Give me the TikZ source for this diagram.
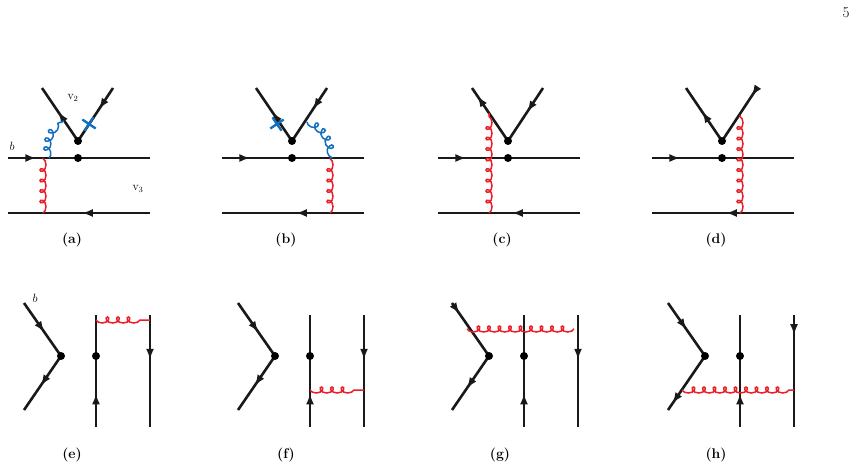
\documentclass[tikz,border=0pt]{standalone}
\usepackage{amsmath}
\usetikzlibrary{arrows.meta,decorations.pathmorphing,decorations.markings,shapes.misc}
\definecolor{gred}{RGB}{235,30,40}
\definecolor{gblue}{RGB}{20,110,190}
\tikzset{
  fermion/.style={line width=2.6pt,black!90},
  arr/.style={postaction={decorate,decoration={markings,
      mark=at position #1 with {\arrow{Latex[length=11pt,width=8pt]}}}}},
  gluon/.style={draw=#1,line width=1.5pt,decorate,
      decoration={coil,mirror,amplitude=3pt,segment length=10.5pt,aspect=1.2}},
  gluon/.default=gred,
  vtx/.style={circle,fill=black,inner sep=0pt,minimum size=8pt},
  xmark/.style={cross out,draw=gblue,line width=2.4pt,minimum size=9pt,inner sep=0pt},
  lbl/.style={font=\fontsize{14}{15}\selectfont\bfseries}
}
\begin{document}
\begin{tikzpicture}[x=1pt,y=-1pt]
  \useasboundingbox (0,0) rectangle (858,469);
  \node at (846,13) {\fontsize{15}{16}\selectfont 5};
  % top row: common skeleton
  \foreach \dx/\name/\pa/\pb in {0/a/.55/.4,214/b/.55/.4,430/c/.85/.45,644/d/.55/.15} {
    \begin{scope}[xshift=\dx]
      \coordinate (l1) at (8,158);  \coordinate (r1) at (150,158);
      \coordinate (l2) at (8,213);  \coordinate (r2) at (150,213);
      \coordinate (v) at (78,141);
      \coordinate (ea) at (42,88);  \coordinate (eb) at (113,88);
      \draw[fermion,arr=.2] (l1) -- (r1);
      \draw[fermion,arr=.48] (r2) -- (l2);
      \draw[fermion,arr=\pa] (v) -- (ea);
      \draw[fermion,arr=\pb] (eb) -- (v);
      \node[vtx] (d1) at (78,158) {};
      \node[vtx] (d2) at (v) {};
      \node[lbl] (lab\name) at (72,240) {(\name)};
    \end{scope}
  }
  % (a)
  \node (v2) at (73,98) {\fontsize{12}{13}\selectfont v$_2$};
  \node (v3) at (138,189) {\fontsize{12}{13}\selectfont v$_3$};
  \node (ba) at (12,146) {\fontsize{13}{14}\selectfont$b$};
  \coordinate (ga1) at (43,213); \coordinate (ga2) at (43,158);
  \draw[gluon] (ga1) -- (ga2);
  \coordinate (gb1) at (49,158); \coordinate (gb2) at (64,121);
  \draw[gluon=gblue,decoration={segment length=8.5pt}] (gb1) to[bend left=35] (gb2);
  \node[xmark,rotate=11] (xa) at (89,124) {};
  % (b)
  \coordinate (gc1) at (330,213); \coordinate (gc2) at (330,158);
  \draw[gluon] (gc1) -- (gc2);
  \coordinate (gd1) at (307,122); \coordinate (gd2) at (330,158);
  \draw[gluon=gblue,decoration={segment length=8.5pt}] (gd1) to[bend left=35] (gd2);
  \node[xmark,rotate=-11] (xb) at (277,124) {};
  % (c)
  \coordinate (ge1) at (489,213); \coordinate (ge2) at (489,113);
  \draw[gluon] (ge1) -- (ge2);
  % (d)
  \coordinate (gf1) at (740,213); \coordinate (gf2) at (740,115);
  \draw[gluon] (gf1) -- (gf2);
  % bottom row: common skeleton
  \foreach \dx/\name/\pu/\pw/\pr in {0/e/.55/.55/.4,214/f/.55/.55/.4,428/g/.2/.6/.4,644/h/.5/.88/.18} {
    \begin{scope}[xshift=\dx]
      \coordinate (p) at (61,356);
      \coordinate (u) at (24,303);  \coordinate (w) at (24,410);
      \coordinate (t1) at (96,315); \coordinate (b1) at (96,427);
      \coordinate (t2) at (150,315); \coordinate (b2) at (150,427);
      \draw[fermion,arr=\pu] (u) -- (p);
      \draw[fermion,arr=\pw] (p) -- (w);
      \draw[fermion,arr=.3] (b1) -- (t1);
      \draw[fermion,arr=\pr] (t2) -- (b2);
      \node[vtx] (q1) at (p) {};
      \node[vtx] (q2) at (96,356) {};
      \node[lbl] (lab\name) at (72,455) {(\name)};
    \end{scope}
  }
  \node (be) at (35,298) {\fontsize{13}{14}\selectfont$b$};
  % (e)
  \coordinate (gg1) at (96,320); \coordinate (gg2) at (150,320);
  \draw[gluon] (gg1) -- (gg2);
  % (f)
  \coordinate (gh1) at (310,390); \coordinate (gh2) at (364,390);
  \draw[gluon] (gh1) -- (gh2);
  % (g)
  \coordinate (gi1) at (467,329); \coordinate (gi2) at (574,329);
  \draw[gluon] (gi1) -- (gi2);
  % (h)
  \coordinate (gj1) at (682,390); \coordinate (gj2) at (794,390);
  \draw[gluon] (gj1) -- (gj2);
\end{tikzpicture}
\end{document}
